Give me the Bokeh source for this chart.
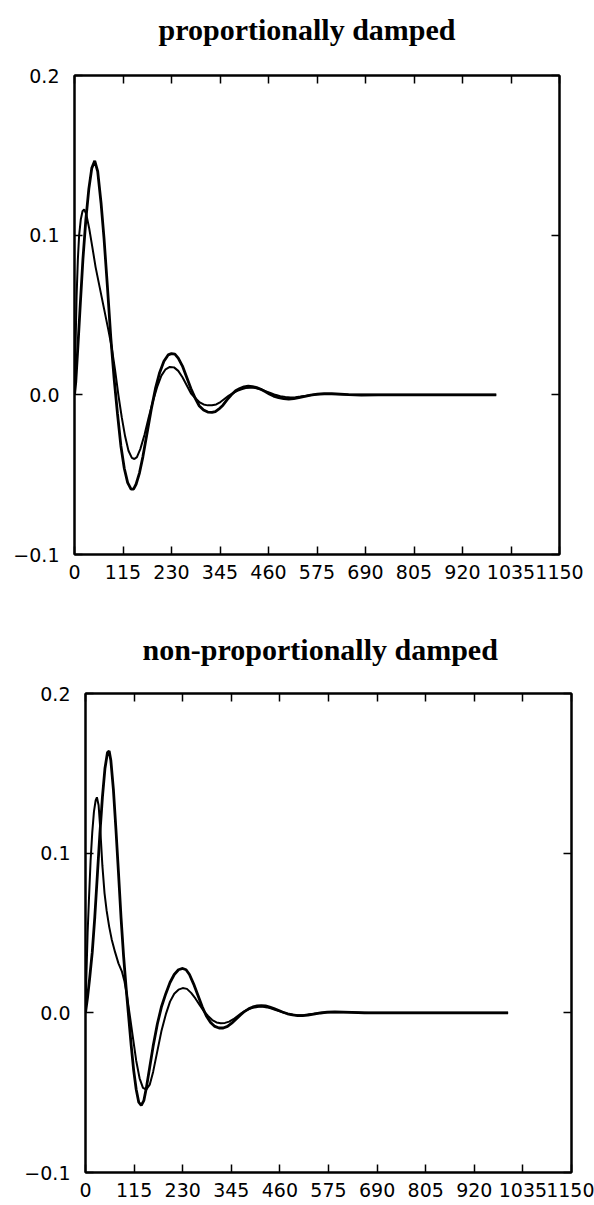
from bokeh.plotting import figure
from bokeh.models import Range1d, FixedTicker, LinearAxis, Title, CustomLabelingPolicy
from bokeh.embed import file_html
from bokeh.resources import INLINE

# ---------------- data ----------------
x_tick_values = [0, 115, 230, 345, 460, 575, 690, 805, 920, 1035, 1150]
x_tick_labels = ["0", "115", "230", "345", "460", "575", "690", "805", "920", "1035", "1150"]
y_tick_values = [-0.1, 0.0, 0.1, 0.2]
y_tick_labels = ["\u22120.1", "0.0", "0.1", "0.2"]

titles = ["proportionally damped", "non-proportionally damped"]

# proportionally damped: curve with the larger first peak (heavier line)
p_thick_x = [0, 3, 8, 14, 20, 27, 34, 41, 48, 55, 63, 70, 78, 86, 94, 102, 110, 118, 126, 134,
             140, 146, 154, 162, 172, 182, 192, 202, 212, 222, 230, 238, 246, 256, 266, 276, 286,
             296, 306, 316, 326, 334, 342, 352, 362, 372, 382, 392, 402, 412, 422, 432, 442, 452,
             462, 472, 484, 496, 508, 520, 532, 546, 560, 576, 592, 610, 630, 650, 680, 720, 800,
             900, 1000]
p_thick_y = [0.0, 0.008, 0.030, 0.058, 0.085, 0.110, 0.129, 0.142, 0.1466, 0.140, 0.120, 0.098,
             0.068, 0.036, 0.010, -0.012, -0.032, -0.046, -0.055, -0.059, -0.059, -0.056, -0.049,
             -0.039, -0.024, -0.009, 0.004, 0.014, 0.021, 0.025, 0.0258, 0.0255, 0.023, 0.018,
             0.011, 0.004, -0.002, -0.007, -0.0095, -0.0108, -0.011, -0.0105, -0.009, -0.0065,
             -0.003, 0.0, 0.0025, 0.004, 0.005, 0.0054, 0.0052, 0.0045, 0.0035, 0.002, 0.0005,
             -0.0008, -0.0018, -0.0024, -0.0026, -0.0024, -0.0018, -0.001, -0.0002, 0.0004,
             0.0007, 0.0007, 0.0004, 0.0001, -0.0001, 0.0, 0.0, 0.0, 0.0]

# proportionally damped: curve with the early, smaller peak (lighter line)
p_thin_x = [0, 2, 5, 8, 11, 15, 19, 23, 28, 35, 42, 50, 60, 70, 80, 88, 96, 104, 112, 120, 128,
            136, 142, 148, 156, 166, 176, 186, 196, 206, 216, 226, 236, 246, 256, 266, 276, 286,
            296, 306, 316, 326, 336, 346, 356, 366, 376, 386, 396, 406, 416, 426, 436, 446, 456,
            466, 476, 488, 500, 512, 524, 536, 550, 566, 582, 600, 620, 640, 670, 720, 800, 900,
            1000]
p_thin_y = [0.0, 0.025, 0.062, 0.085, 0.100, 0.110, 0.115, 0.1162, 0.113, 0.104, 0.093, 0.080,
            0.067, 0.054, 0.041, 0.030, 0.016, 0.0, -0.014, -0.026, -0.035, -0.0395, -0.0402,
            -0.039, -0.034, -0.025, -0.014, -0.004, 0.005, 0.012, 0.016, 0.0175, 0.0172, 0.015,
            0.011, 0.006, 0.001, -0.002, -0.0045, -0.006, -0.0066, -0.0065, -0.006, -0.0045,
            -0.0025, -0.0005, 0.001, 0.0025, 0.0035, 0.0042, 0.0045, 0.0044, 0.0038, 0.003,
            0.002, 0.001, 0.0, -0.0009, -0.0014, -0.0016, -0.0015, -0.0011, -0.0006, 0.0, 0.0004,
            0.0005, 0.0004, 0.0002, 0.0, 0.0, 0.0, 0.0, 0.0]

# non-proportionally damped: larger first peak (heavier line)
n_thick_x = [0, 5, 10, 16, 22, 28, 34, 40, 46, 52, 56, 60, 66, 72, 78, 84, 90, 96, 102, 108, 114,
             120, 126, 132, 138, 144, 152, 160, 170, 180, 190, 200, 210, 220, 230, 238, 246, 256,
             266, 276, 286, 296, 306, 316, 326, 336, 346, 356, 366, 376, 386, 396, 406, 416, 426,
             436, 446, 456, 466, 478, 490, 502, 514, 526, 540, 556, 572, 590, 610, 630, 660, 720,
             800, 900, 1000]
n_thick_y = [0.0, 0.010, 0.022, 0.038, 0.060, 0.086, 0.112, 0.135, 0.153, 0.163, 0.164, 0.158,
             0.140, 0.115, 0.088, 0.060, 0.036, 0.016, -0.002, -0.020, -0.036, -0.048, -0.056,
             -0.058, -0.055, -0.047, -0.034, -0.021, -0.007, 0.004, 0.012, 0.019, 0.024, 0.027,
             0.0278, 0.027, 0.024, 0.018, 0.011, 0.004, -0.002, -0.006, -0.0085, -0.0095, -0.0095,
             -0.0085, -0.0065, -0.004, -0.0015, 0.0008, 0.0025, 0.0037, 0.0043, 0.0045, 0.0043,
             0.0036, 0.0027, 0.0016, 0.0005, -0.0006, -0.0013, -0.0017, -0.0017, -0.0014, -0.0008,
             -0.0001, 0.0004, 0.0006, 0.0005, 0.0003, 0.0, 0.0, 0.0, 0.0, 0.0]

# non-proportionally damped: early, smaller peak (lighter line)
n_thin_x = [0, 2, 5, 8, 12, 16, 20, 24, 27, 31, 35, 40, 45, 50, 56, 62, 70, 78, 86, 92, 98, 104,
            112, 120, 128, 136, 144, 152, 160, 170, 180, 190, 200, 210, 220, 230, 240, 250, 260,
            270, 280, 290, 300, 310, 320, 330, 340, 350, 360, 370, 380, 390, 400, 410, 420, 430,
            440, 450, 460, 470, 482, 494, 506, 518, 530, 545, 560, 580, 600, 620, 645, 670, 720,
            800, 900, 1000]
n_thin_y = [0.0, 0.022, 0.050, 0.070, 0.095, 0.113, 0.126, 0.133, 0.135, 0.130, 0.115, 0.092,
            0.075, 0.064, 0.054, 0.046, 0.038, 0.031, 0.026, 0.020, 0.011, 0.0, -0.015, -0.030,
            -0.041, -0.047, -0.048, -0.045, -0.037, -0.024, -0.011, -0.001, 0.007, 0.012, 0.0145,
            0.0155, 0.015, 0.0125, 0.009, 0.005, 0.001, -0.002, -0.0045, -0.006, -0.0065,
            -0.0063, -0.0055, -0.004, -0.002, 0.0, 0.0015, 0.0027, 0.0034, 0.0038, 0.0038,
            0.0034, 0.0027, 0.0018, 0.0009, 0.0, -0.0008, -0.0013, -0.0015, -0.0013, -0.0009,
            -0.0004, 0.0, 0.0004, 0.0005, 0.0004, 0.0002, 0.0, 0.0, 0.0, 0.0, 0.0]

TICK_FONT = "DejaVu Sans"
TITLE_FONT = "Liberation Serif"

NO_LABELS = "for (let i = 0; i < indices.size; i++) { indices.unset(i) }\nreturn indices"


def make_panel(title, thick_x, thick_y, thin_x, thin_y, height, borders, title_gap,
               title_offset):
    left, right, top, bottom = borders
    p = figure(width=594, height=height, output_backend="svg", toolbar_location=None,
               x_range=Range1d(0, 1150), y_range=Range1d(-0.1, 0.2),
               min_border_left=left, min_border_right=right,
               min_border_top=top, min_border_bottom=bottom,
               x_axis_type=None, y_axis_type=None)
    p.background_fill_color = "white"
    p.border_fill_color = "white"
    p.outline_line_color = "black"
    p.outline_line_width = 2
    p.xgrid.visible = False
    p.ygrid.visible = False

    xt = FixedTicker(ticks=x_tick_values)
    yt = FixedTicker(ticks=y_tick_values)

    def style(ax, show_labels):
        ax.axis_line_color = "black"
        ax.axis_line_width = 2
        ax.major_tick_line_color = "black"
        ax.major_tick_line_width = 1.5
        ax.major_tick_in = 8
        ax.major_tick_out = 0
        ax.minor_tick_line_color = None
        if show_labels:
            ax.major_label_text_font = TICK_FONT
            ax.major_label_text_font_size = "19px"
            ax.major_label_text_color = "black"
        else:
            ax.major_label_text_font_size = "0px"
            ax.major_label_standoff = 0
            ax.major_label_policy = CustomLabelingPolicy(code=NO_LABELS)

    xb = LinearAxis(ticker=xt, major_label_overrides=dict(zip(x_tick_values, x_tick_labels)))
    style(xb, True)
    xb.major_label_standoff = 10
    p.add_layout(xb, "below")

    yl = LinearAxis(ticker=yt, major_label_overrides=dict(zip(y_tick_values, y_tick_labels)))
    style(yl, True)
    yl.major_label_standoff = 15
    p.add_layout(yl, "left")

    xa = LinearAxis(ticker=xt)
    style(xa, False)
    p.add_layout(xa, "above")

    # invisible spacer between the frame and the title
    gap = LinearAxis(ticker=xt)
    style(gap, False)
    gap.axis_line_alpha = 0
    gap.major_tick_line_alpha = 0
    gap.major_tick_in = 0
    gap.major_tick_out = title_gap
    p.add_layout(gap, "above")

    yr = LinearAxis(ticker=yt)
    style(yr, False)
    p.add_layout(yr, "right")

    t = Title(text=title, align="left", text_font=TITLE_FONT, text_font_size="30px",
              text_font_style="bold", text_color="black", standoff=10,
              offset=title_offset)
    p.add_layout(t, "above")

    p.line(thin_x, thin_y, line_color="black", line_width=2)
    p.line(thick_x, thick_y, line_color="black", line_width=2.8)
    return p


p1 = make_panel(titles[0], p_thick_x, p_thick_y, p_thin_x, p_thin_y,
                600, (74, 35, 75, 46), 25, 84)
p2 = make_panel(titles[1], n_thick_x, n_thick_y, n_thin_x, n_thin_y,
                605, (85, 23, 93, 33), 23, 57)

open("out.html", "w").write(file_html([p1, p2], INLINE))
